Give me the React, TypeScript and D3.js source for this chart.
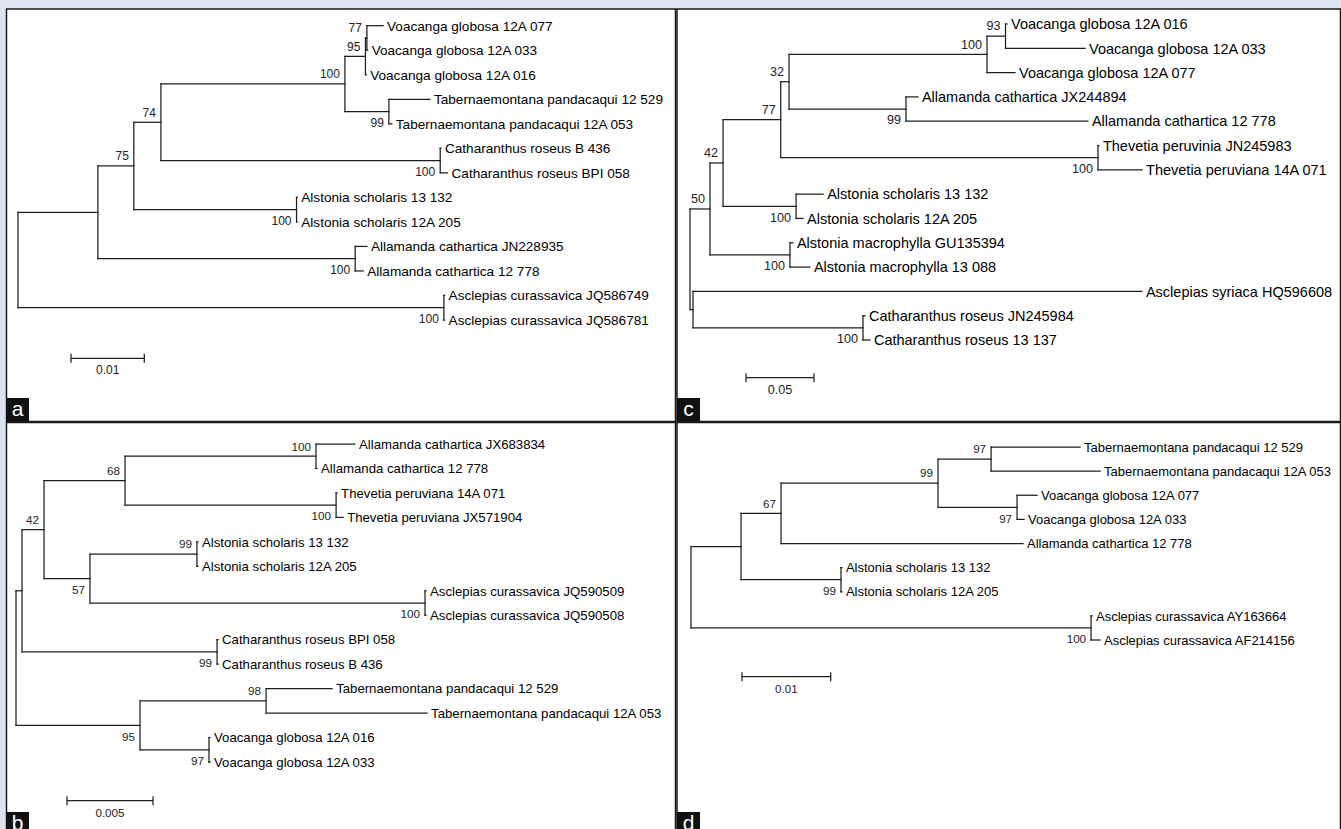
import React from "react";
import * as d3 from "d3";

// ---------------- Panel a ----------------
const aIds = [
  "a0", "a1", "a2", "a3", "a4", "a5", "a6",
  "Voacanga globosa 12A 077", "Voacanga globosa 12A 033", "Voacanga globosa 12A 016",
  "a7", "Tabernaemontana pandacaqui 12 529", "Tabernaemontana pandacaqui 12A 053",
  "a8", "Catharanthus roseus B 436", "Catharanthus roseus BPI 058",
  "a9", "Alstonia scholaris 13 132", "Alstonia scholaris 12A 205",
  "a10", "Allamanda cathartica JN228935", "Allamanda cathartica 12 778",
  "a11", "Asclepias curassavica JQ586749", "Asclepias curassavica JQ586781",
];
const aParents = [
  "", "a0", "a1", "a2", "a3", "a4", "a5",
  "a6", "a6", "a5",
  "a4", "a7", "a7",
  "a3", "a8", "a8",
  "a2", "a9", "a9",
  "a1", "a10", "a10",
  "a0", "a11", "a11",
];
const aLengths = [
  0, 0.0109, 0.0049, 0.0037, 0.0251, 0.0028, 0.0002,
  0.0022, 0.0001, 0.0001,
  0.006, 0.0056, 0.0004,
  0.0381, 0.0001, 0.001,
  0.0222, 0.0001, 0.0001,
  0.0351, 0.0016, 0.0011,
  0.0581, 0.0001, 0.0001,
];
const aSupport = [
  "", "", "75", "74", "100", "95", "77",
  "", "", "",
  "99", "", "",
  "100", "", "",
  "100", "", "",
  "100", "", "",
  "100", "", "",
];

// ---------------- Panel b ----------------
const bIds = [
  "b0", "b1", "b2", "b3", "b4",
  "Allamanda cathartica JX683834", "Allamanda cathartica 12 778",
  "b5", "Thevetia peruviana 14A 071", "Thevetia peruviana JX571904",
  "b6", "b7", "Alstonia scholaris 13 132", "Alstonia scholaris 12A 205",
  "b8", "Asclepias curassavica JQ590509", "Asclepias curassavica JQ590508",
  "b9", "Catharanthus roseus BPI 058", "Catharanthus roseus B 436",
  "b10", "b11", "Tabernaemontana pandacaqui 12 529", "Tabernaemontana pandacaqui 12A 053",
  "b12", "Voacanga globosa 12A 016", "Voacanga globosa 12A 033",
];
const bParents = [
  "", "b0", "b1", "b2", "b3",
  "b4", "b4",
  "b3", "b5", "b5",
  "b2", "b6", "b7", "b7",
  "b6", "b8", "b8",
  "b1", "b9", "b9",
  "b0", "b10", "b11", "b11",
  "b10", "b12", "b12",
];
const bLengths = [
  0, 0.00035, 0.00128, 0.00471, 0.0111,
  0.00227, 0.00006,
  0.01227, 0.00006, 0.00041,
  0.00267, 0.00622, 0.00006, 0.00006,
  0.01948, 0.00006, 0.00006,
  0.01134, 0.00006, 0.00006,
  0.00721, 0.00733, 0.00384, 0.00936,
  0.00401, 0.00006, 0.00006,
];
const bSupport = [
  "", "", "42", "68", "100",
  "", "",
  "100", "", "",
  "57", "99", "", "",
  "100", "", "",
  "99", "", "",
  "95", "98", "", "",
  "97", "", "",
];

// ---------------- Panel c ----------------
const cIds = [
  "c0", "c1", "c2", "c3", "c4", "c5", "c6",
  "Voacanga globosa 12A 016", "Voacanga globosa 12A 033", "Voacanga globosa 12A 077",
  "c7", "Allamanda cathartica JX244894", "Allamanda cathartica 12 778",
  "c8", "Thevetia peruvinia JN245983", "Thevetia peruviana 14A 071",
  "c9", "Alstonia scholaris 13 132", "Alstonia scholaris 12A 205",
  "c10", "Alstonia macrophylla GU135394", "Alstonia macrophylla 13 088",
  "c11", "Asclepias syriaca HQ596608",
  "c12", "Catharanthus roseus JN245984", "Catharanthus roseus 13 137",
];
const cParents = [
  "", "c0", "c1", "c2", "c3", "c4", "c5",
  "c6", "c6", "c5",
  "c4", "c7", "c7",
  "c3", "c8", "c8",
  "c2", "c9", "c9",
  "c1", "c10", "c10",
  "c0", "c11",
  "c11", "c12", "c12",
];
const cLengths = [
  0, 0.0147, 0.0096, 0.0424, 0.0061, 0.1456, 0.0136,
  0.0011, 0.0585, 0.0206,
  0.086, 0.0088, 0.1338,
  0.2333, 0.0007, 0.0324,
  0.0537, 0.0199, 0.0051,
  0.0588, 0.0022, 0.0147,
  0.0022, 0.3301,
  0.125, 0.0015, 0.0051,
];
const cSupport = [
  "", "50", "42", "77", "32", "100", "93",
  "", "", "",
  "99", "", "",
  "100", "", "",
  "100", "", "",
  "100", "", "",
  "", "",
  "100", "", "",
];

// ---------------- Panel d ----------------
const dIds = [
  "d0", "d1", "d2", "d3", "d4",
  "Tabernaemontana pandacaqui 12 529", "Tabernaemontana pandacaqui 12A 053",
  "d5", "Voacanga globosa 12A 077", "Voacanga globosa 12A 033",
  "Allamanda cathartica 12 778",
  "d6", "Alstonia scholaris 13 132", "Alstonia scholaris 12A 205",
  "d7", "Asclepias curassavica AY163664", "Asclepias curassavica AF214156",
];
const dParents = [
  "", "d0", "d1", "d2", "d3",
  "d4", "d4",
  "d3", "d5", "d5",
  "d2",
  "d1", "d6", "d6",
  "d0", "d7", "d7",
];
const dLengths = [
  0, 0.00564, 0.00451, 0.0177, 0.00598,
  0.01003, 0.01229,
  0.00891, 0.00225, 0.00079,
  0.02728,
  0.01127, 0.00011, 0.00011,
  0.0451, 0.00011, 0.00101,
];
const dSupport = [
  "", "", "67", "99", "97",
  "", "",
  "97", "", "",
  "",
  "99", "", "",
  "100", "", "",
];

// scale bars
const panelLetters = ["a", "b", "c", "d"];
const scaleValues = [0.01, 0.005, 0.05, 0.01];
const scaleLabels = ["0.01", "0.005", "0.05", "0.01"];

// ---------------- layout (positions only) ----------------
const W = 1341;
const H = 829;
const FONT = "'Liberation Sans', Arial, Helvetica, sans-serif";

type Layout = {
  rootX: number;
  barPx: number;
  yRange: [number, number];
  barX: number;
  barY: number;
  box: [number, number];
  leafFont: number;
  supFont: number;
};

const layouts: Layout[] = [
  { rootX: 18, barPx: 73.3, yRange: [25.7, 320], barX: 71, barY: 358.3, box: [6, 398], leafFont: 13.6, supFont: 12 },
  { rootX: 16, barPx: 86, yRange: [444, 762], barX: 67, barY: 800.7, box: [6, 812], leafFont: 13.2, supFont: 11.7 },
  { rootX: 690, barPx: 68, yRange: [24, 340], barX: 746, barY: 377.7, box: [677, 398], leafFont: 14.5, supFont: 12.6 },
  { rootX: 691, barPx: 88.7, yRange: [447, 640], barX: 742, barY: 676.7, box: [677, 812], leafFont: 13.0, supFont: 11.6 },
];

const trees = [
  [aIds, aParents, aLengths, aSupport],
  [bIds, bParents, bLengths, bSupport],
  [cIds, cParents, cLengths, cSupport],
  [dIds, dParents, dLengths, dSupport],
] as [string[], string[], number[], string[]][];

type Row = { id: string; parent: string; len: number; support: string };

function Tree({ index }: { index: number }) {
  const [ids, parents, lengths, support] = trees[index];
  const lay = layouts[index];
  const rows: Row[] = ids.map((id, i) => ({
    id,
    parent: parents[i],
    len: lengths[i],
    support: support[i],
  }));
  const root = d3
    .stratify<Row>()
    .id((d) => d.id)
    .parentId((d) => (d.parent ? d.parent : null))(rows);

  const dist = new Map<any, number>();
  root.eachBefore((n: any) => {
    dist.set(n, n.parent ? dist.get(n.parent)! + n.data.len : 0);
  });

  const xScale = d3
    .scaleLinear()
    .domain([0, scaleValues[index]])
    .range([lay.rootX, lay.rootX + lay.barPx]);
  const leaves = root.leaves();
  const yScale = d3
    .scalePoint<string>()
    .domain(leaves.map((l) => l.id as string))
    .range(lay.yRange);

  const pos = new Map<any, { x: number; y: number }>();
  root.eachAfter((n: any) => {
    const x = xScale(dist.get(n)!);
    let y: number;
    if (n.children) {
      const f = pos.get(n.children[0])!;
      const l = pos.get(n.children[n.children.length - 1])!;
      y = (f.y + l.y) / 2;
    } else {
      y = yScale(n.id)!;
    }
    pos.set(n, { x, y });
  });

  const nodes = root.descendants();
  const stroke = "#1e1e1e";
  const sw = 1.25;

  const bar0 = xScale(0);
  const bar1 = xScale(scaleValues[index]);
  const barLen = bar1 - bar0;

  return (
    <g>
      {nodes.map((n: any, i) => {
        const p = pos.get(n)!;
        const els: React.ReactNode[] = [];
        if (n.parent) {
          const pp = pos.get(n.parent)!;
          els.push(
            <line
              key={"h" + i}
              x1={pp.x}
              x2={p.x}
              y1={p.y}
              y2={p.y}
              stroke={stroke}
              strokeWidth={sw}
              strokeLinecap="square"
            />
          );
        }
        if (n.children) {
          const f = pos.get(n.children[0])!;
          const l = pos.get(n.children[n.children.length - 1])!;
          els.push(
            <line
              key={"v" + i}
              x1={p.x}
              x2={p.x}
              y1={f.y}
              y2={l.y}
              stroke={stroke}
              strokeWidth={sw}
              strokeLinecap="square"
            />
          );
        } else {
          els.push(
            <text
              key={"t" + i}
              x={p.x + 4}
              y={p.y}
              dy="0.36em"
              fontSize={lay.leafFont}
              fontFamily={FONT}
              fill="#000"
            >
              {n.id}
            </text>
          );
        }
        if (n.data.support && n.parent) {
          const isFirst = n.parent.children[0] === n;
          els.push(
            <text
              key={"s" + i}
              x={p.x - 5}
              y={isFirst ? p.y - 5.7 : p.y + 15.3}
              textAnchor="end"
              fontSize={lay.supFont}
              fontFamily={FONT}
              fill="#222"
            >
              {n.data.support}
            </text>
          );
        }
        return <g key={i}>{els}</g>;
      })}
      {/* scale bar */}
      <g stroke={stroke} strokeWidth={sw}>
        <line x1={lay.barX} x2={lay.barX + barLen} y1={lay.barY} y2={lay.barY} />
        <line x1={lay.barX} x2={lay.barX} y1={lay.barY - 4.5} y2={lay.barY + 4.5} />
        <line
          x1={lay.barX + barLen}
          x2={lay.barX + barLen}
          y1={lay.barY - 4.5}
          y2={lay.barY + 4.5}
        />
      </g>
      <text
        x={lay.barX + barLen / 2}
        y={lay.barY + 16}
        textAnchor="middle"
        fontSize={lay.supFont}
        fontFamily={FONT}
        fill="#222"
      >
        {scaleLabels[index]}
      </text>
      {/* panel letter */}
      <rect x={lay.box[0]} y={lay.box[1]} width={23} height={23} fill="#111" />
      <text
        x={lay.box[0] + 11.5}
        y={lay.box[1] + 18}
        textAnchor="middle"
        fontSize={21}
        fontFamily={FONT}
        fill="#fff"
      >
        {panelLetters[index]}
      </text>
    </g>
  );
}

export default function App() {
  const panels = [
    { x: 6.5, y: 9, w: 669, h: 412.5 },
    { x: 6.5, y: 422.5, w: 669, h: 420 },
    { x: 677, y: 9, w: 663.5, h: 412.5 },
    { x: 677, y: 422.5, w: 663.5, h: 420 },
  ];
  return (
    <svg
      width={W}
      height={H}
      viewBox={`0 0 ${W} ${H}`}
      style={{ position: "absolute", left: 0, top: 0, display: "block" }}
    >
      <rect x={0} y={0} width={W} height={H} fill="#dde3ef" />
      {panels.map((p, i) => (
        <rect
          key={i}
          x={p.x}
          y={p.y}
          width={p.w}
          height={p.h}
          fill="#fff"
          stroke="#1a1a1a"
          strokeWidth={1.5}
        />
      ))}
      {[0, 1, 2, 3].map((i) => (
        <Tree key={i} index={i} />
      ))}
    </svg>
  );
}
